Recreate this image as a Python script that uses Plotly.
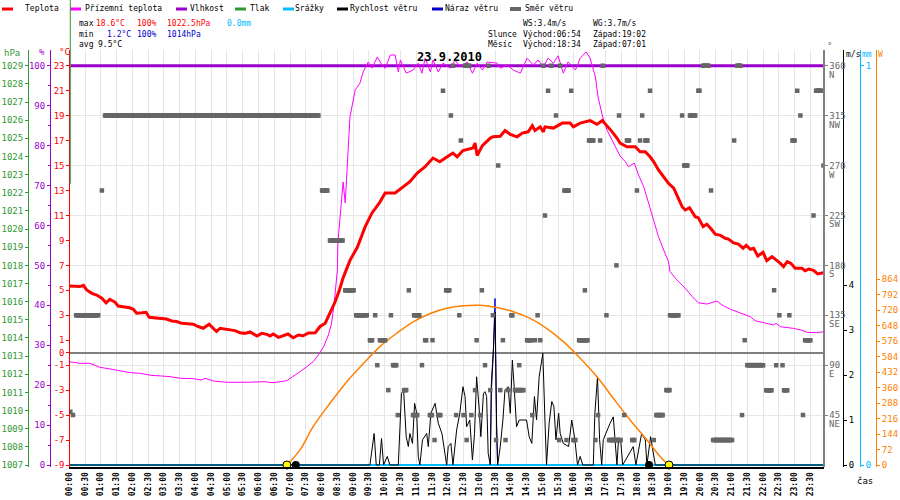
import plotly.graph_objects as go

FONT = "DejaVu Sans Mono"

# ---------------- data (23.9.2010) ----------------
TEMP_T = ["00:00", "00:20", "00:27", "00:33", "00:43", "00:52", "01:02", "01:10", "01:17", "01:27",
          "01:33", "01:43", "01:55", "02:02", "02:08", "02:18", "02:26", "02:32", "02:43", "02:53",
          "03:05", "03:15", "03:24", "03:34", "03:43", "03:56", "04:05", "04:15", "04:26", "04:33",
          "04:40", "04:47", "04:56", "05:06", "05:15", "05:25", "05:34", "05:44", "05:57", "06:06",
          "06:16", "06:22", "06:28", "06:38", "06:47", "06:56", "07:06", "07:16", "07:25", "07:35",
          "07:48", "07:57", "08:07", "08:16", "08:26", "08:34", "08:41", "08:54", "09:08", "09:23",
          "09:36", "09:51", "10:01", "10:20", "10:29", "10:48", "11:02", "11:17", "11:32", "11:45",
          "11:59", "12:10", "12:18", "12:29", "12:48", "12:52", "12:56", "13:06", "13:21", "13:26",
          "13:40", "13:49", "13:59", "14:12", "14:22", "14:33", "14:41", "14:46", "14:56", "15:02",
          "15:05", "15:21", "15:38", "15:53", "15:59", "16:12", "16:31", "16:44", "16:54", "17:03",
          "17:13", "17:22", "17:28", "17:41", "17:57", "18:06", "18:16", "18:25", "18:32", "18:41",
          "18:51", "19:00", "19:10", "19:16", "19:26", "19:32", "19:40", "19:51", "19:57", "20:06",
          "20:13", "20:23", "20:29", "20:39", "20:48", "20:54", "21:04", "21:13", "21:22", "21:28",
          "21:36", "21:42", "21:50", "22:00", "22:07", "22:17", "22:26", "22:33", "22:39", "22:46",
          "22:53", "23:01", "23:14", "23:20", "23:27", "23:36", "23:44", "23:55"]
TEMP_C = [5.35, 5.3, 5.4, 5.03, 4.76, 4.62, 4.36, 4.0, 4.28, 4.04,
          3.74, 3.7, 3.6, 3.48, 3.16, 3.2, 3.24, 2.84, 2.8, 2.8,
          2.7, 2.54, 2.5, 2.35, 2.3, 2.28, 2.1, 1.96, 2.28, 1.96,
          1.7, 1.96, 1.9, 1.82, 1.77, 1.6, 1.55, 1.66, 1.34, 1.55,
          1.47, 1.34, 1.5, 1.23, 1.34, 1.5, 1.2, 1.42, 1.36, 1.58,
          1.6, 2.1, 2.36, 3.16, 4.1, 5.03, 6.0, 7.4, 8.45, 10.1,
          11.2, 12.07, 12.8, 12.8, 13.1, 13.7, 14.4, 14.9, 15.6, 15.3,
          15.7, 16.0, 15.7, 16.2, 16.4, 16.8, 15.8, 16.6, 17.2, 17.3,
          17.35, 17.8, 17.5, 17.3, 17.6, 17.7, 18.2, 17.8, 18.1, 17.7,
          18.1, 18.0, 18.4, 18.4, 18.1, 18.4, 18.6, 18.3, 18.6, 18.2,
          17.7, 17.2, 16.8, 16.5, 16.5, 16.1, 16.1, 15.7, 15.3, 14.64,
          14.05, 13.58, 13.18, 12.64, 11.7, 11.44, 11.62, 10.9, 10.8, 10.1,
          10.3, 9.83, 9.5, 9.4, 9.17, 9.1, 8.8, 8.7, 8.37, 8.6,
          8.29, 8.37, 7.75, 8.04, 7.37, 7.7, 7.42, 7.16, 6.9, 7.3,
          7.16, 6.76, 6.76, 6.57, 6.7, 6.6, 6.31, 6.4]

GROUND_T = ["00:00", "00:20", "00:39", "00:58", "01:17", "01:37", "01:56", "02:15", "02:34", "02:53",
            "03:12", "03:31", "03:56", "04:12", "04:18", "04:34", "05:00", "05:38", "06:03", "06:13",
            "06:22", "06:35", "06:54", "07:06", "07:19", "07:32", "07:44", "07:54", "08:04", "08:13",
            "08:19", "08:24", "08:28", "08:30", "08:31", "08:41", "08:45", "08:49", "08:54", "09:04",
            "09:13", "09:19", "09:29", "09:36", "09:46", "09:55", "10:01", "10:11", "10:20", "10:26",
            "10:30", "10:41", "10:54", "11:04", "11:11", "11:17", "11:27", "11:32", "11:42", "11:51",
            "12:05", "12:14", "12:24", "12:37", "12:47", "12:56", "13:06", "13:15", "13:34", "13:40",
            "13:53", "14:05", "14:18", "14:31", "14:43", "14:52", "15:02", "15:11", "15:21", "15:30",
            "15:40", "15:49", "16:03", "16:12", "16:23", "16:31", "16:41", "16:46", "16:54", "17:03",
            "17:13", "17:22", "17:28", "17:38", "17:44", "17:55", "18:03", "18:13", "18:22", "18:32",
            "18:41", "18:51", "19:00", "19:03", "19:16", "19:32", "19:45", "19:57", "20:13", "20:32",
            "20:42", "20:58", "21:10", "21:26", "21:36", "21:45", "22:01", "22:20", "22:25", "22:33",
            "22:58", "23:14", "23:24", "23:42", "23:55"]
GROUND_C = [-0.72, -0.85, -0.85, -1.17, -1.3, -1.44, -1.6, -1.65, -1.81, -1.86,
            -1.92, -2.05, -2.08, -2.19, -2.05, -2.27, -2.37, -2.37, -2.37, -2.32,
            -2.4, -2.37, -2.24, -1.92, -1.52, -1.12, -0.72, -0.18, 0.48, 1.42,
            2.35, 3.96, 5.8, 6.6, 8.79, 13.68, 12.0, 14.88, 18.89, 21.05,
            21.6, 22.5, 23.3, 22.8, 23.7, 23.05, 22.8, 23.86, 23.86, 22.5,
            23.46, 22.4, 22.65, 23.2, 22.4, 23.6, 22.5, 23.46, 22.5, 23.2,
            22.8, 23.46, 22.9, 23.3, 22.4, 23.2, 22.65, 23.3, 23.2, 22.8,
            23.05, 22.65, 22.4, 23.6, 23.05, 23.46, 22.9, 23.6, 23.2, 23.8,
            22.4, 23.3, 22.65, 23.6, 24.1, 23.6, 22.1, 20.5, 19.05, 17.85,
            17.04, 16.24, 15.76, 15.3, 14.9, 15.2, 14.24, 13.3, 11.97, 10.63,
            9.3, 8.23, 7.3, 6.5, 5.83, 5.16, 4.5, 4.0, 3.9, 4.14,
            3.82, 3.48, 3.29, 3.1, 2.88, 2.56, 2.4, 2.22, 2.35, 2.08,
            1.95, 1.8, 1.63, 1.6, 1.68]

HUM_T = ["00:00", "23:55"]
HUM_PCT = [100, 100]

PRESS_T = ["00:00"]
PRESS_HPA = [1022.5]

RAIN_T = ["00:00", "23:55"]
RAIN_MM = [0.0, 0.0]

WIND_T = ["00:00", "09:32", "09:40", "09:44", "09:50", "09:54", "09:58", "10:00", "10:05", "10:10",
          "10:26", "10:32", "10:36", "10:41", "10:45", "10:48", "10:53", "10:57", "11:01", "11:04",
          "11:07", "11:12", "11:20", "11:23", "11:28", "11:36", "11:42", "11:49", "11:55", "11:58",
          "12:01", "12:06", "12:10", "12:17", "12:23", "12:29", "12:33", "12:36", "12:42", "12:47",
          "12:51", "12:55", "13:00", "13:03", "13:08", "13:11", "13:14", "13:17", "13:21", "13:23",
          "13:27", "13:30", "13:33", "13:35", "13:40", "13:45", "13:49", "13:55", "13:59", "14:03",
          "14:06", "14:11", "14:16", "14:21", "14:30", "14:35", "14:40", "14:45", "14:49", "14:54",
          "15:01", "15:05", "15:08", "15:13", "15:18", "15:22", "15:26", "15:31", "15:34", "15:40",
          "15:50", "15:56", "16:02", "16:07", "16:12", "16:17", "16:37", "16:40", "16:45", "16:49",
          "16:53", "16:56", "17:03", "17:09", "17:15", "17:19", "17:22", "17:25", "17:29", "17:33",
          "17:53", "17:58", "18:09", "18:16", "18:19", "18:26", "18:31", "18:35", "23:55"]
WIND_MS = [0, 0, 0.70, 0, 0, 0.59, 0, 0.05, 0.19, 0,
           0, 1.59, 1.67, 0.63, 0.41, 0.70, 0.48, 1.37, 1.15, 0.19,
           0, 0.56, 0.70, 0.41, 1.15, 1.37, 0.93, 0.70, 0.19, 0,
           0.41, 0.48, 0, 0.78, 1.15, 1.74, 1.52, 0.85, 1.0, 0.11,
           0.70, 1.96, 1.22, 0.63, 1.59, 1.63, 1.52, 0.26, 0, 1.63,
           2.56, 3.4, 0.85, 0, 0.41, 1.0, 1.67, 1.74, 1.15, 2.33,
           1.81, 0.85, 1.0, 1.0, 1.0, 0.63, 0.48, 1.52, 1.0, 1.96,
           2.48, 1.0, 0, 0.93, 1.41, 1.30, 0.56, 1.15, 0.70, 0.48,
           0.41, 1.0, 0.56, 0, 0.19, 0, 0, 1.15, 1.96, 0.56,
           0, 0.56, 0.78, 0.93, 1.07, 0.41, 0, 0.56, 0.56, 0,
           0.41, 0, 0.70, 0.56, 0, 0.63, 0.26, 0, 0]

GUST_T = ["13:21", "13:23", "13:27", "13:30", "13:33", "13:35"]
GUST_MS = [0, 1.8, 2.6, 3.7, 0.9, 0]

SOLAR_T = ["06:54", "07:19", "07:44", "08:16", "08:48", "09:20", "09:51", "10:23", "10:55", "11:27",
           "11:58", "12:30", "13:02", "13:33", "14:05", "14:37", "15:08", "15:40", "16:12", "16:44",
           "17:15", "17:47", "18:19", "18:44", "19:00"]
SOLAR_W = [0, 70, 178, 287, 387, 473, 550, 612, 666, 704,
           728, 740, 742, 732, 712, 681, 635, 573, 496, 410,
           310, 209, 116, 39, 0]

SUN_T = ["06:54", "19:01"]
MOON_T = ["07:11", "18:23"]

# wind direction samples: start time, run length (min), degrees
DIR_START = ["00:02", "00:07", "00:13", "01:02", "01:08", "08:01", "08:16", "08:45", "09:06", "09:32",
             "09:42", "09:46", "09:51", "10:07", "10:12", "10:16", "10:25", "10:37", "10:46", "10:54",
             "10:56", "11:11", "11:17", "11:26", "11:31", "11:35", "11:42", "11:51", "11:57", "12:06",
             "12:10", "12:16", "12:22", "12:25", "12:30", "12:33", "12:36", "12:45", "12:52", "12:55",
             "13:02", "13:05", "13:11", "13:18", "13:21", "13:26", "13:32", "13:36", "13:40", "13:45",
             "13:50", "13:55", "14:01", "14:08", "14:16", "14:31", "14:41", "14:46", "14:51", "14:56",
             "15:02", "15:05", "15:11", "15:17", "15:26", "15:32", "15:34", "15:42", "15:46", "15:55",
             "15:59", "16:10", "16:21", "16:29", "16:41", "16:46", "16:50", "16:55", "17:02", "17:07",
             "17:21", "17:26", "17:36", "17:41", "17:51", "18:00", "18:06", "18:10", "18:16", "18:25",
             "18:32", "18:37", "18:56", "19:03", "19:26", "19:30", "19:41", "19:57", "20:06", "20:21",
             "20:25", "21:05", "21:11", "21:20", "21:25", "21:30", "22:06", "22:21", "22:25", "22:31",
             "22:37", "22:40", "22:50", "22:56", "23:05", "23:11", "23:16", "23:20", "23:36", "23:41",
             "23:55"]
DIR_DUR = [0, 0, 43, 0, 407, 11, 25, 17, 21, 4,
           0, 0, 10, 0, 0, 6, 0, 4, 0, 8,
           10, 0, 2, 4, 0, 0, 4, 0, 6, 0,
           0, 0, 0, 0, 0, 8, 0, 0, 0, 0,
           0, 0, 0, 0, 0, 0, 0, 0, 0, 0,
           0, 0, 3, 17, 0, 8, 0, 0, 0, 0,
           0, 0, 0, 0, 0, 0, 0, 9, 0, 0,
           5, 17, 0, 8, 0, 0, 0, 0, 0, 23,
           0, 0, 0, 4, 4, 0, 0, 0, 5, 0,
           0, 13, 6, 17, 0, 6, 10, 3, 10, 0,
           36, 0, 6, 0, 0, 30, 10, 0, 0, 0,
           0, 6, 0, 5, 0, 0, 0, 10, 0, 10,
           0]
DIR_DEG = [48, 45, 135, 247.5, 315, 247.5, 202.5, 157.5, 135, 112.5,
           135, 90, 112.5, 67.5, 135, 90, 45, 67.5, 157.5, 45,
           135, 90, 112.5, 45, 112.5, 22.5, 45, 337.5, 157.5, 315,
           360, 45, 135, 292.5, 45, 360, 22.5, 45, 67.5, 112.5,
           45, 157.5, 90, 360, 67.5, 135, 22.5, 270, 67.5, 112.5,
           22.5, 67.5, 135, 67.5, 90, 112.5, 45, 112.5, 135, 112.5,
           360, 225, 337.5, 360, 315, 22.5, 360, 247.5, 22.5, 337.5,
           22.5, 112.5, 157.5, 292.5, 22.5, 45, 292.5, 360, 135, 22.5,
           180, 315, 45, 292.5, 22.5, 247.5, 292.5, 315, 292.5, 337.5,
           22.5, 45, 67.5, 135, 315, 270, 315, 337.5, 360, 247.5,
           22.5, 292.5, 360, 45, 112.5, 90, 67.5, 157.5, 90, 135,
           90, 67.5, 135, 292.5, 337.5, 315, 45, 112.5, 225, 337.5,
           270]

TEMP_TICKS = [-9, -7, -5, -3, -1, 0, 1, 3, 5, 7, 9, 11, 13, 15, 17, 19, 21, 23]
HUM_TICKS = [0, 10, 20, 30, 40, 50, 60, 70, 80, 90, 100]
PRESS_TICKS = list(range(1007, 1030))
DIR_TICKS = [45, 90, 135, 180, 225, 270, 315, 360]
DIR_NAMES = ["NE", "E", "SE", "S", "SW", "W", "NW", "N"]
WIND_TICKS = [0, 1, 2, 3, 4]
RAIN_TICKS = [0, 1]
SOLAR_TICKS = [0, 72, 144, 216, 288, 360, 432, 504, 576, 648, 720, 792, 864]

LEGEND_LABELS = ["Teplota", "Přízemní teplota", "Vlhkost", "Tlak", "Srážky",
                 "Rychlost větru", "Náraz větru", "Směr větru"]

# ---------------- colours ----------------
RED, MAGENTA, PURPLE, GREEN = "#ff0000", "#ff00ff", "#9900cc", "#339933"
CYAN, BLUE, GRAY, ORANGE = "#00bbff", "#0000cc", "#666666", "#ff8000"
LEGEND_COLORS = [RED, MAGENTA, PURPLE, GREEN, CYAN, "black", BLUE, GRAY]

# ---------------- page geometry (px) ----------------
W_PX, H_PX = 900, 500
PLOT_L, PLOT_R, PLOT_T, PLOT_B = 69.3, 823.5, 50, 467
BASE_PX = 465  # where the bottom value of each scale sits


def px(x):
    return x / W_PX


def py(y):
    return (PLOT_B - y) / (PLOT_B - PLOT_T)


def yrange(v_base, px_per_unit):
    return [v_base - (PLOT_B - BASE_PX) / px_per_unit,
            v_base + (BASE_PX - PLOT_T) / px_per_unit]


def mins(s):
    h, m = s.split(":")
    return int(h) * 60 + int(m)


def tm(lst):
    return [mins(s) for s in lst]


# direction runs -> individual samples
dir_x, dir_y = [], []
for s, d, deg in zip(DIR_START, DIR_DUR, DIR_DEG):
    for t in range(mins(s), mins(s) + d + 1, 2):
        dir_x.append(t)
        dir_y.append(deg)

fig = go.Figure()
fig.add_trace(go.Scatter(x=tm(HUM_T), y=HUM_PCT, yaxis="y", mode="lines",
                         line=dict(color=PURPLE, width=3)))
fig.add_trace(go.Scatter(x=tm(RAIN_T), y=RAIN_MM, yaxis="y2", mode="lines",
                         line=dict(color=CYAN, width=2)))
fig.add_trace(go.Scatter(x=tm(GUST_T), y=GUST_MS, yaxis="y3", mode="lines",
                         line=dict(color=BLUE, width=1)))
fig.add_trace(go.Scatter(x=tm(WIND_T), y=WIND_MS, yaxis="y3", mode="lines",
                         line=dict(color="black", width=1)))
fig.add_trace(go.Scatter(x=tm(SOLAR_T), y=SOLAR_W, yaxis="y4", mode="lines",
                         line=dict(color=ORANGE, width=1.5, shape="spline")))
fig.add_trace(go.Scatter(x=tm(SUN_T), y=[0] * len(SUN_T), yaxis="y4", mode="markers",
                         cliponaxis=False,
                         marker=dict(color="#ffff00", size=8, line=dict(color="black", width=1))))
fig.add_trace(go.Scatter(x=tm(MOON_T), y=[0] * len(MOON_T), yaxis="y4", mode="markers",
                         cliponaxis=False, marker=dict(color="black", size=8)))
fig.add_trace(go.Scatter(x=tm(GROUND_T), y=GROUND_C, yaxis="y5", mode="lines",
                         line=dict(color=MAGENTA, width=1)))
fig.add_trace(go.Scatter(x=tm(TEMP_T), y=TEMP_C, yaxis="y5", mode="lines",
                         line=dict(color=RED, width=3)))
fig.add_trace(go.Scatter(x=dir_x, y=dir_y, yaxis="y6", mode="markers",
                         marker=dict(symbol="square", size=4.5, color=GRAY, line=dict(width=0))))
fig.add_trace(go.Scatter(x=tm(PRESS_T), y=PRESS_HPA, yaxis="y7", mode="markers",
                         marker=dict(size=1, color=GREEN, opacity=0)))


def yax(color, ticks, rng, side, pos, text=None, overlay=True, **extra):
    ax = dict(
        range=rng, tickmode="array", tickvals=ticks,
        ticktext=text if text is not None else [str(t) for t in ticks],
        side=side, anchor="free", position=pos,
        showline=True, linecolor=color, linewidth=1,
        ticks="outside", ticklen=3, tickcolor=color, tickwidth=1,
        tickfont=dict(family=FONT, size=9, color=color),
        showgrid=False, zeroline=False, automargin=False, fixedrange=True,
    )
    if overlay:
        ax["overlaying"] = "y"
    ax.update(extra)
    return ax


press_rng = yrange(1007, 399.3 / 22)

fig.update_layout(
    width=W_PX, height=H_PX,
    margin=dict(l=0, r=0, t=PLOT_T, b=H_PX - PLOT_B, autoexpand=False),
    paper_bgcolor="white", plot_bgcolor="white",
    showlegend=False,
    font=dict(family=FONT, size=9, color="black"),
    xaxis=dict(
        domain=[px(PLOT_L), px(PLOT_R)], range=[0, 1435],
        tickmode="array", tickvals=list(range(0, 1440, 30)),
        ticktext=[f"{t // 60:02d}:{t % 60:02d}" for t in range(0, 1440, 30)],
        tickangle=-90, tickfont=dict(family=FONT, size=8, color="black", weight="bold"),
        showgrid=True, gridcolor="#e6e6e6", gridwidth=1,
        showline=True, linecolor="black", linewidth=2, ticks="",
        zeroline=False, anchor="y", automargin=False, fixedrange=True,
    ),
    yaxis=yax(PURPLE, HUM_TICKS, yrange(0, 399.3 / 100), "left", px(50), overlay=False,
              minor=dict(tickmode="linear", tick0=5, dtick=10, ticks="outside",
                         ticklen=2, tickcolor=PURPLE)),
    yaxis2=yax(CYAN, RAIN_TICKS, yrange(0, 399.3), "right", px(860)),
    yaxis3=yax("black", WIND_TICKS, yrange(0, 45), "right", px(843)),
    yaxis4=yax(ORANGE, SOLAR_TICKS, yrange(0, 186 / 864), "right", px(876)),
    yaxis5=yax(RED, TEMP_TICKS, yrange(-9, 399.3 / 32), "left", px(PLOT_L),
               zeroline=True, zerolinecolor="#808080", zerolinewidth=1.5),
    yaxis6=yax("#808080", DIR_TICKS, yrange(0, 399.3 / 360), "right", px(PLOT_R),
               linewidth=2, tickfont=dict(family=FONT, size=9, color=GRAY),
               showgrid=True, gridcolor="#e6e6e6", gridwidth=1),
    yaxis7=yax(GREEN, PRESS_TICKS, press_rng, "left", px(28)),
)

ann = []
shapes = []


def note(x, y, text, color="black", size=8, anchor="left", **kw):
    ann.append(dict(x=px(x), y=py(y), xref="paper", yref="paper", text=text,
                    showarrow=False, xanchor=anchor, yanchor="middle", borderpad=0,
                    font=dict(family=FONT, size=size, color=color), **kw))


# legend row
dash_x = [2, 70, 176, 235, 283, 337, 432, 510]
text_x = [24, 84, 189, 249, 294, 349, 444, 524]
for lab, col, dx, tx in zip(LEGEND_LABELS, LEGEND_COLORS, dash_x, text_x):
    shapes.append(dict(type="line", xref="paper", yref="paper",
                       x0=px(dx), x1=px(dx + 11), y0=py(9), y1=py(9),
                       line=dict(color=col, width=4 if col == GRAY else 3)))
    note(tx, 9, lab)

# statistics block
note(78, 24, "max")
note(95, 24, "18.6°C", RED)
note(136, 24, "100%", RED)
note(166, 24, "1022.5hPa", RED)
note(226, 24, "0.0mm", CYAN)
note(78, 34, "min")
note(106, 34, "1.2°C", BLUE)
note(136, 34, "100%", BLUE)
note(166, 34, "1014hPa", BLUE)
note(78, 44, "avg")
note(97, 44, "9.5°C")

note(522, 24, "WS:3.4m/s")
note(592, 24, "WG:3.7m/s")
note(487, 34, "Slunce")
note(522, 34, "Východ:06:54")
note(592, 34, "Západ:19:02")
note(487, 44, "Měsíc")
note(522, 44, "Východ:18:34")
note(592, 44, "Západ:07:01")

note(449, 57, "<b>23.9.2010</b>", size=12, anchor="center")

# axis captions
note(21, 53, "hPa", GREEN, size=9, anchor="right")
note(42, 52, "%", PURPLE, size=9, anchor="center")
note(64, 52, "°C", RED, size=9, anchor="center")
note(826, 46, "°", GRAY, size=9)
note(845, 54, "m/s", "black", size=8)
note(861, 54, "mm", CYAN, size=8)
note(877, 54, "W", ORANGE, size=8)
note(856, 481, "čas", "black", size=9)

# compass names under the direction ticks
for deg, name in zip(DIR_TICKS, DIR_NAMES):
    ann.append(dict(x=px(827), y=deg, xref="paper", yref="y6", text=name,
                    showarrow=False, xanchor="left", yanchor="middle", yshift=-9,
                    font=dict(family=FONT, size=9, color=GRAY)))

# pressure trace leaves the chart upward at the first sample
p0 = (PRESS_HPA[0] - press_rng[0]) / (press_rng[1] - press_rng[0])
shapes.append(dict(type="line", xref="paper", yref="paper",
                   x0=px(PLOT_L + 1), x1=px(PLOT_L + 1), y0=p0, y1=py(0),
                   line=dict(color=GREEN, width=1), layer="above"))

fig.update_layout(annotations=ann, shapes=shapes)
fig.write_html("out.html",
               config={"displayModeBar": False},
               post_script="document.body.style.margin='0';"
                           "document.body.style.overflow='hidden';")
